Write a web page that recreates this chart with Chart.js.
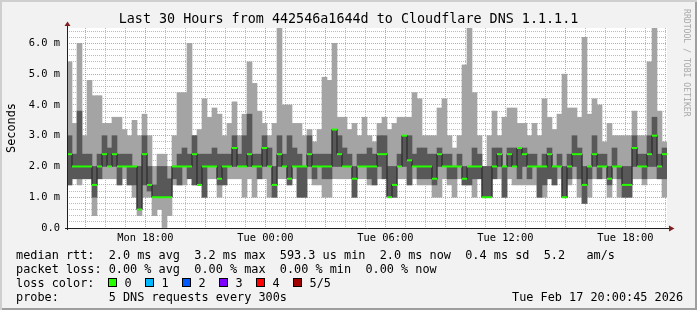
<!DOCTYPE html>
<html>
<head>
<meta charset="utf-8">
<script src="https://cdn.jsdelivr.net/npm/chart.js@4.4.1/dist/chart.umd.min.js"></script>
<style>
  body { margin: 0; }
  #graph {
    position: relative; width: 697px; height: 310px; overflow: hidden;
    background: #f2f2f2;
    box-shadow: inset 2px 2px 0 #cfcfcf, inset -2px -2px 0 #9e9e9e;
  }
  #smoke { position: absolute; left: 0; top: 0; }
  .t { position: absolute; margin: 0; white-space: pre; color: #000;
       font-family: "DejaVu Sans Mono", monospace; }
  .title { left: 0; top: 11px; width: 697px; text-align: center; font-size: 13.4px; line-height: 16px; }
  .unit { left: -39px; top: 121px; width: 100px; text-align: center; font-size: 11.85px; line-height: 14px;
          transform: rotate(-90deg); }
  .mark { left: 637px; top: 54px; width: 100px; text-align: center; font-size: 8.15px; line-height: 10px;
          color: #a8a8a8; transform: rotate(90deg); }
  .legend { left: 16px; top: 248px; font-size: 11.85px; line-height: 14px; }
  .stamp { left: 512px; top: 290px; font-size: 11.85px; line-height: 14px; }
  .box { position: absolute; top: 278px; width: 7px; height: 7px; border: 1px solid #000; }
</style>
</head>
<body>
<div id="graph">
  <canvas id="smoke" width="697" height="310"></canvas>
  <div class="t title">Last 30 Hours from 442546a1644d to Cloudflare DNS 1.1.1.1</div>
  <div class="t unit">Seconds</div>
  <div class="t mark">RRDTOOL / TOBI OETIKER</div>
  <pre class="t legend">median rtt:  2.0 ms avg  3.2 ms max  593.3 us min  2.0 ms now  0.4 ms sd  5.2   am/s
packet loss: 0.00 % avg  0.00 % max  0.00 % min  0.00 % now
loss color:
probe:       5 DNS requests every 300s</pre>
  <div class="t stamp">Tue Feb 17 20:00:45 2026</div>
</div>
<script>
// 15 minute columns, x is hours since Mon 00:00
var slotStart = 14 + 5 / 60;
var slotHours = 0.25;
var spanHours = 30;

// round trip times in ms: max, 4th, median, 2nd, min of the 5 pings
var pingMax = [
  5.4, 3.4, 6.0, 3.0, 4.8, 4.3, 4.3, 3.4, 3.4, 3.6, 3.6, 3.2, 3.0, 3.5, 3.0, 3.7, 3.0, 2.0, 2.4, 2.4,
  2.0, 3.0, 4.4, 4.4, 6.0, 3.0, 3.2, 4.2, 3.6, 3.9, 3.7, 3.0, 3.4, 4.1, 3.0, 3.7, 5.4, 4.7, 3.8, 3.4,
  3.0, 3.4, 6.5, 4.0, 4.0, 3.4, 3.4, 3.0, 3.2, 2.8, 3.2, 4.9, 4.8, 6.0, 3.6, 3.6, 3.2, 3.4, 3.0, 3.6,
  3.0, 2.8, 3.4, 3.6, 3.2, 3.4, 3.6, 3.6, 3.6, 4.4, 4.2, 3.0, 3.0, 3.0, 3.9, 4.2, 3.0, 2.6, 3.0, 5.3,
  6.5, 4.4, 3.0, 2.0, 3.0, 3.8, 3.0, 3.6, 3.9, 3.9, 3.4, 3.4, 3.0, 3.4, 3.0, 4.2, 3.6, 3.2, 3.7, 5.0,
  3.9, 3.9, 3.6, 6.2, 3.7, 4.2, 4.0, 2.8, 3.4, 3.0, 3.0, 3.0, 3.0, 3.8, 3.0, 3.0, 5.4, 6.5, 3.8, 2.8
];
var pingHigh = [
  3.0, 2.4, 3.8, 2.4, 2.4, 2.0, 2.4, 3.0, 2.6, 3.0, 2.4, 2.4, 2.4, 2.0, 2.0, 3.0, 2.0, 1.4, 2.0, 2.0,
  1.6, 2.0, 2.4, 2.6, 2.4, 3.0, 2.4, 2.4, 2.4, 2.6, 2.4, 2.4, 2.4, 3.0, 2.4, 3.0, 3.7, 2.4, 2.4, 3.0,
  2.6, 2.0, 3.0, 2.4, 3.0, 2.6, 2.4, 2.0, 3.0, 2.4, 2.4, 2.4, 2.4, 3.2, 3.0, 2.6, 2.4, 2.0, 2.4, 2.4,
  2.6, 2.4, 3.0, 3.0, 2.0, 2.0, 2.4, 3.0, 3.0, 2.4, 2.6, 2.6, 2.4, 2.4, 2.6, 2.4, 2.4, 2.0, 2.4, 2.0,
  2.0, 2.6, 2.4, 2.0, 2.0, 2.6, 2.6, 2.0, 2.6, 2.6, 2.6, 2.6, 2.4, 2.4, 2.0, 2.4, 2.6, 2.0, 2.4, 2.0,
  2.4, 3.0, 2.6, 2.0, 2.0, 3.0, 2.4, 2.4, 2.0, 2.6, 2.0, 2.0, 2.0, 3.0, 2.4, 2.4, 3.0, 3.6, 2.4, 2.6
];
var pingMedian = [
  2.4, 2.0, 2.0, 2.0, 2.0, 1.4, 2.0, 2.4, 2.0, 2.4, 2.0, 2.0, 2.0, 2.0, 0.6, 2.4, 1.4, 1.0, 1.0, 1.0,
  1.0, 2.0, 2.0, 2.0, 2.0, 2.4, 1.4, 2.0, 2.0, 2.0, 1.6, 2.0, 2.0, 2.6, 2.0, 2.0, 2.4, 2.0, 2.0, 2.6,
  2.0, 1.4, 2.4, 2.0, 1.6, 2.0, 2.0, 2.0, 2.4, 2.0, 2.0, 2.0, 2.0, 3.2, 2.4, 2.0, 2.0, 1.6, 2.0, 2.0,
  2.0, 2.0, 2.4, 2.4, 1.0, 1.4, 2.0, 3.0, 2.2, 2.0, 2.0, 2.0, 2.0, 1.6, 2.4, 2.0, 2.0, 2.0, 2.0, 1.6,
  2.0, 2.0, 2.0, 1.0, 1.0, 2.0, 2.4, 2.0, 2.4, 2.0, 2.6, 2.4, 2.0, 2.0, 2.0, 2.0, 2.4, 2.0, 2.0, 1.0,
  2.0, 2.4, 2.4, 1.4, 2.0, 2.4, 2.0, 2.0, 1.6, 2.0, 2.0, 1.4, 1.4, 2.6, 2.0, 2.0, 2.4, 3.0, 2.0, 2.4
];
var pingLow = [
  1.4, 1.6, 1.6, 1.6, 1.6, 1.0, 1.6, 2.0, 2.0, 2.0, 1.4, 2.0, 1.4, 1.4, 0.6, 1.4, 1.2, 1.0, 1.0, 1.0,
  1.0, 1.6, 1.4, 2.0, 1.6, 1.4, 1.4, 1.0, 2.0, 2.0, 1.4, 1.4, 2.0, 2.0, 2.0, 2.0, 2.0, 2.0, 1.6, 2.0,
  2.0, 1.0, 2.0, 2.0, 1.4, 2.0, 1.0, 1.0, 2.0, 1.6, 2.0, 1.6, 1.6, 2.0, 2.0, 2.0, 2.0, 1.0, 2.0, 2.0,
  1.6, 1.4, 2.0, 1.6, 1.0, 1.0, 2.0, 2.0, 1.4, 2.0, 1.6, 1.6, 1.6, 1.4, 2.0, 2.0, 1.6, 1.6, 2.0, 1.4,
  1.4, 1.6, 1.6, 1.0, 1.0, 1.6, 2.0, 1.0, 2.0, 2.0, 1.6, 2.0, 1.6, 2.0, 1.0, 1.4, 1.6, 1.4, 2.0, 1.0,
  1.6, 2.0, 1.6, 0.8, 1.6, 2.0, 1.6, 2.0, 1.4, 2.0, 1.6, 1.0, 1.0, 2.0, 2.0, 1.6, 2.0, 2.0, 1.6, 1.6
];
var pingMin = [
  1.4, 1.6, 1.4, 1.6, 1.6, 0.4, 1.6, 1.6, 1.6, 1.6, 1.4, 1.6, 1.4, 1.0, 0.4, 1.0, 1.0, 0.4, 0.6, 0.0,
  0.4, 1.4, 1.4, 1.4, 1.6, 1.4, 1.4, 1.0, 1.6, 1.6, 1.0, 1.4, 1.6, 1.6, 1.6, 1.0, 1.6, 1.0, 1.6, 1.6,
  1.0, 1.0, 1.6, 1.6, 1.4, 1.6, 1.0, 1.0, 1.6, 1.4, 1.4, 1.0, 1.0, 1.6, 1.6, 1.6, 1.6, 1.0, 1.6, 1.6,
  1.4, 1.4, 1.6, 1.6, 1.0, 1.0, 1.6, 1.6, 1.4, 1.6, 1.4, 1.4, 1.4, 1.0, 1.0, 1.6, 1.4, 1.0, 1.6, 1.4,
  1.4, 1.0, 1.6, 1.0, 1.0, 1.6, 1.6, 1.0, 1.6, 1.4, 1.4, 1.4, 1.4, 1.4, 1.0, 1.0, 1.6, 1.4, 1.6, 1.0,
  1.4, 1.6, 1.0, 0.8, 1.0, 1.6, 1.6, 1.6, 1.0, 1.6, 1.0, 1.0, 1.0, 1.6, 1.6, 1.4, 1.6, 1.6, 1.6, 1.0
];

var tickHours = [18, 24, 30, 36, 42];
var tickLabels = ['Mon 18:00', 'Tue 00:00', 'Tue 06:00', 'Tue 12:00', 'Tue 18:00'];
var yTickLabels = ['0.0', '1.0 m', '2.0 m', '3.0 m', '4.0 m', '5.0 m', '6.0 m'];
var yMax = 6.5;

var lossLabels = ['0', '1', '2', '3', '4', '5/5'];
var lossColors = ['#26ff00', '#00b8ff', '#0059ff', '#7e00ff', '#ff0000', '#a10000'];

var gridMinor = 'rgba(143,143,143,0.6)';
var gridMajor = 'rgba(222,79,79,0.6)';

// loss colour legend boxes
var graph = document.getElementById('graph');
for (var k = 0; k < lossLabels.length; k++) {
  var bx = 108 + k * 37;
  var box = document.createElement('span');
  box.className = 'box';
  box.style.left = bx + 'px';
  box.style.background = lossColors[k];
  graph.appendChild(box);
  var lbl = document.createElement('span');
  lbl.className = 't';
  lbl.style.left = (bx + 16.5) + 'px';
  lbl.style.top = '276px';
  lbl.style.fontSize = '11.85px';
  lbl.style.lineHeight = '14px';
  lbl.textContent = lossLabels[k];
  graph.appendChild(lbl);
}

var outerSmoke = [], innerSmoke = [], medianPts = [];
for (var i = 0; i < pingMedian.length; i++) {
  var x = slotStart + (i + 0.5) * slotHours;
  outerSmoke.push({x: x, y: [pingMin[i], pingMax[i]]});
  innerSmoke.push({x: x, y: [pingLow[i], pingHigh[i]]});
  medianPts.push({x: x, y: pingMedian[i]});
}

function isWhole(v) {
  return Math.abs(v - Math.round(v)) < 1e-6;
}

var rrdFrame = {
  id: 'rrdFrame',
  beforeDraw: function(chart) {
    var a = chart.chartArea, c = chart.ctx;
    c.save();
    c.fillStyle = '#ffffff';
    c.fillRect(a.left, a.top, a.right - a.left, a.bottom - a.top);
    c.restore();
  },
  afterDraw: function(chart) {
    var a = chart.chartArea, c = chart.ctx;
    c.save();
    c.strokeStyle = '#1f1f1f';
    c.lineWidth = 1;
    c.beginPath();
    c.moveTo(a.left + 0.5, a.bottom + 2);
    c.lineTo(a.left + 0.5, a.top - 3);
    c.moveTo(a.left - 2, a.bottom + 0.5);
    c.lineTo(a.right + 3, a.bottom + 0.5);
    c.stroke();
    c.fillStyle = '#801f1f';
    c.beginPath();
    c.moveTo(a.left + 0.5, a.top - 6.5);
    c.lineTo(a.left - 2.5, a.top - 2);
    c.lineTo(a.left + 3.5, a.top - 2);
    c.fill();
    c.beginPath();
    c.moveTo(a.right + 7.5, a.bottom + 0.5);
    c.lineTo(a.right + 2, a.bottom - 2.5);
    c.lineTo(a.right + 2, a.bottom + 3.5);
    c.fill();
    c.restore();
  }
};

Chart.defaults.font.family = '"DejaVu Sans Mono", monospace';

var ctx = document.getElementById('smoke').getContext('2d');
var smokeChart = new Chart(ctx, {
  type: 'bar',
  data: {
    datasets: [
      {
        type: 'line',
        data: medianPts,
        borderColor: '#202020',
        borderWidth: 1,
        stepped: 'middle',
        fill: false,
        pointStyle: 'line',
        pointRadius: 2.5,
        pointBorderWidth: 2,
        pointBorderColor: '#26ff00',
        pointBackgroundColor: '#26ff00',
        order: 1
      },
      {
        data: innerSmoke,
        backgroundColor: '#585858',
        grouped: false,
        barPercentage: 1,
        categoryPercentage: 1,
        order: 2
      },
      {
        data: outerSmoke,
        backgroundColor: '#a4a4a4',
        grouped: false,
        barPercentage: 1,
        categoryPercentage: 1,
        order: 3
      }
    ]
  },
  options: {
    responsive: false,
    animation: false,
    devicePixelRatio: 1,
    events: [],
    layout: { padding: { left: 0, top: 28, right: 30, bottom: 62 } },
    plugins: { legend: { display: false }, tooltip: { enabled: false } },
    scales: {
      x: {
        type: 'linear',
        min: slotStart,
        max: slotStart + spanHours,
        offset: false,
        afterBuildTicks: function(scale) {
          var t = [];
          for (var h = Math.ceil(scale.min); h <= scale.max; h++) t.push({value: h});
          scale.ticks = t;
        },
        afterFit: function(scale) { scale.height = 20; },
        grid: {
          offset: false,
          drawTicks: false,
          color: function(c) {
            return c.tick && c.tick.value % 3 === 0 ? gridMajor : gridMinor;
          }
        },
        border: { display: false, dash: [1, 1] },
        ticks: {
          autoSkip: false,
          maxRotation: 0,
          minRotation: 0,
          padding: 4,
          color: '#000',
          font: { size: 10.4 },
          callback: function(v) {
            var k = tickHours.indexOf(v);
            return k < 0 ? '' : tickLabels[k];
          }
        }
      },
      y: {
        min: 0,
        max: yMax,
        afterBuildTicks: function(scale) {
          var t = [];
          for (var k = 0; k * 0.2 < yMax; k++) t.push({value: k / 5});
          scale.ticks = t;
        },
        afterFit: function(scale) { scale.width = 67; },
        grid: {
          drawTicks: false,
          color: function(c) {
            return c.tick && isWhole(c.tick.value) ? gridMajor : gridMinor;
          }
        },
        border: { display: false, dash: [1, 1] },
        ticks: {
          autoSkip: false,
          padding: 7,
          color: '#000',
          font: { size: 10.4 },
          callback: function(v) {
            return isWhole(v) ? yTickLabels[Math.round(v)] : '';
          }
        }
      }
    }
  },
  plugins: [rrdFrame]
});
</script>
</body>
</html>
